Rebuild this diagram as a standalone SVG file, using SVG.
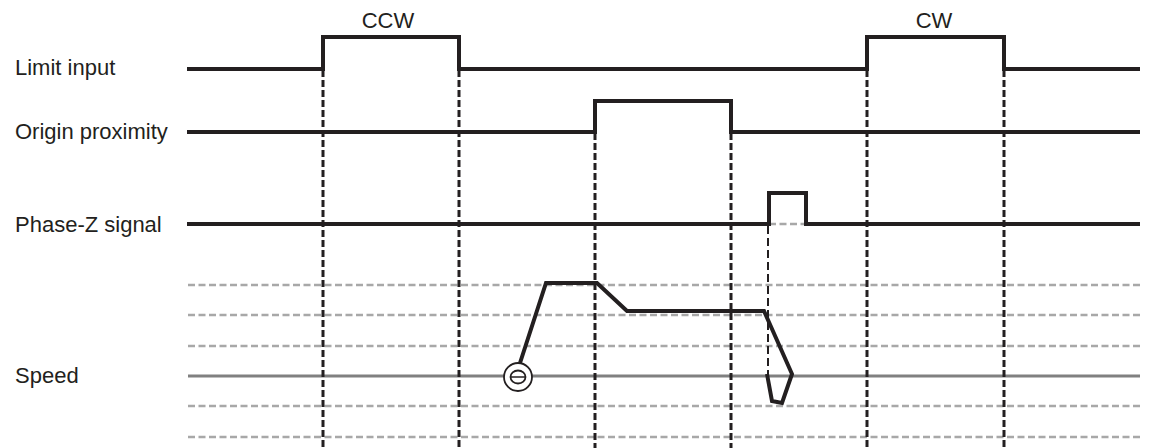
<svg xmlns="http://www.w3.org/2000/svg" width="1151" height="448" viewBox="0 0 1151 448">
<style>
.lbl{font-family:"Liberation Sans",Arial,sans-serif;font-size:22px;fill:#231f20}
.sig{fill:none;stroke:#231f20;stroke-width:4;stroke-linejoin:miter;stroke-linecap:butt}
.vd{stroke:#231f20;stroke-width:3;stroke-dasharray:7 3;fill:none}
.zd{stroke:#231f20;stroke-width:2;stroke-dasharray:8 4;fill:none}
.gd{stroke:#a8a8a8;stroke-width:2.5;stroke-dasharray:7 3.5;fill:none}
.gs{stroke:#808080;stroke-width:3;fill:none}
</style>
<rect width="1151" height="448" fill="#fff"/>
<g id="labels">
<text class="lbl" x="15" y="75">Limit input</text>
<text class="lbl" x="15" y="139">Origin proximity</text>
<text class="lbl" x="15" y="232">Phase-Z signal</text>
<text class="lbl" x="15" y="383">Speed</text>
<text class="lbl" x="388" y="28" text-anchor="middle">CCW</text>
<text class="lbl" x="934" y="28" text-anchor="middle">CW</text>
</g>
<g id="speed-grid">
<line class="gd" x1="188" y1="285" x2="1140" y2="285"/>
<line class="gd" x1="188" y1="315" x2="1140" y2="315"/>
<line class="gd" x1="188" y1="346" x2="1140" y2="346"/>
<line class="gs" x1="188" y1="376" x2="1140" y2="376"/>
<line class="gd" x1="188" y1="406" x2="1140" y2="406"/>
<line class="gd" x1="188" y1="437" x2="1140" y2="437"/>
<line class="gd" x1="769" y1="224" x2="806" y2="224"/>
</g>
<g id="connectors">
<line class="vd" x1="323" y1="70" x2="323" y2="448"/>
<line class="vd" x1="459" y1="70" x2="459" y2="448"/>
<line class="vd" x1="595" y1="133" x2="595" y2="448"/>
<line class="vd" x1="731" y1="133" x2="731" y2="448"/>
<line class="vd" x1="867" y1="70" x2="867" y2="448"/>
<line class="vd" x1="1004" y1="70" x2="1004" y2="448"/>
<line class="zd" x1="768" y1="226" x2="768" y2="376"/>
</g>
<g id="limit-input">
<polyline class="sig" points="187,69 323,69 323,37 459,37 459,69 867,69 867,37 1004,37 1004,69 1140,69"/>
</g>
<g id="origin-proximity">
<polyline class="sig" points="187,132 595,132 595,101 731,101 731,132 1140,132"/>
</g>
<g id="phase-z">
<polyline class="sig" points="187,224 769,224"/>
<polyline class="sig" points="769,226 769,193 806,193 806,226"/>
<polyline class="sig" points="806,224 1140,224"/>
</g>
<g id="speed">
<polyline class="sig" points="520,363 546,283 597,283 627,311 764,311 792,374 782,403 772,401 767,374"/>
<circle cx="518" cy="377" r="14" fill="#fff" stroke="#231f20" stroke-width="1.8"/>
<ellipse cx="518" cy="377" rx="7.5" ry="6.5" fill="#fff" stroke="#231f20" stroke-width="1.8"/>
<line x1="511" y1="377" x2="525" y2="377" stroke="#231f20" stroke-width="1.5"/>
</g>
</svg>
